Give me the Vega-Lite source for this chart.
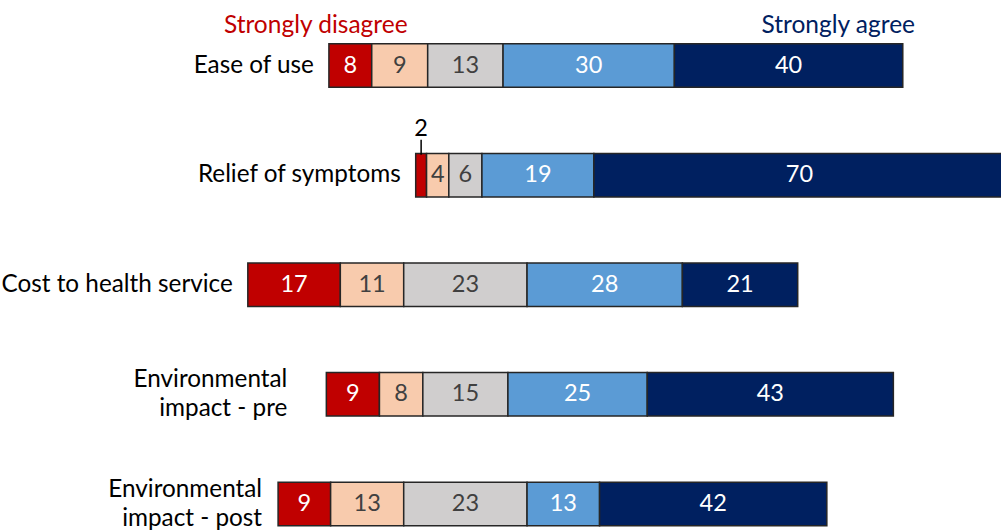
{
  "$schema": "https://vega.github.io/schema/vega-lite/v6.json",
  "width": 1001,
  "height": 530,
  "autosize": {"type": "none"},
  "padding": 0,
  "background": "white",
  "config": {"view": {"stroke": null}, "font": "Lato"},
  "data": {
    "values": [
      {"q": "Ease of use", "r": 1, "v": 7.5, "label": "8"},
      {"q": "Ease of use", "r": 2, "v": 9.8, "label": "9"},
      {"q": "Ease of use", "r": 3, "v": 13.2, "label": "13"},
      {"q": "Ease of use", "r": 4, "v": 30.0, "label": "30"},
      {"q": "Ease of use", "r": 5, "v": 40.0, "label": "40"},
      {"q": "Relief of symptoms", "r": 1, "v": 1.9, "label": "2"},
      {"q": "Relief of symptoms", "r": 2, "v": 3.9, "label": "4"},
      {"q": "Relief of symptoms", "r": 3, "v": 5.8, "label": "6"},
      {"q": "Relief of symptoms", "r": 4, "v": 19.6, "label": "19"},
      {"q": "Relief of symptoms", "r": 5, "v": 72.0, "label": "70"},
      {"q": "Cost to health service", "r": 1, "v": 16.2, "label": "17"},
      {"q": "Cost to health service", "r": 2, "v": 11.1, "label": "11"},
      {"q": "Cost to health service", "r": 3, "v": 21.6, "label": "23"},
      {"q": "Cost to health service", "r": 4, "v": 27.2, "label": "28"},
      {"q": "Cost to health service", "r": 5, "v": 20.2, "label": "21"},
      {"q": "Environmental\nimpact - pre", "r": 1, "v": 9.3, "label": "9"},
      {"q": "Environmental\nimpact - pre", "r": 2, "v": 7.6, "label": "8"},
      {"q": "Environmental\nimpact - pre", "r": 3, "v": 14.9, "label": "15"},
      {"q": "Environmental\nimpact - pre", "r": 4, "v": 24.4, "label": "25"},
      {"q": "Environmental\nimpact - pre", "r": 5, "v": 43.1, "label": "43"},
      {"q": "Environmental\nimpact - post", "r": 1, "v": 9.2, "label": "9"},
      {"q": "Environmental\nimpact - post", "r": 2, "v": 12.8, "label": "13"},
      {"q": "Environmental\nimpact - post", "r": 3, "v": 21.6, "label": "23"},
      {"q": "Environmental\nimpact - post", "r": 4, "v": 12.7, "label": "13"},
      {"q": "Environmental\nimpact - post", "r": 5, "v": 39.8, "label": "42"}
    ]
  },
  "transform": [
    {"calculate": "datum.r < 3 ? datum.v : (datum.r == 3 ? datum.v / 2 : 0)", "as": "pre"},
    {"joinaggregate": [{"op": "sum", "field": "pre", "as": "off"}], "groupby": ["q"]},
    {"window": [{"op": "sum", "field": "v", "as": "cum"}], "sort": [{"field": "r", "order": "ascending"}], "groupby": ["q"], "frame": [null, 0]},
    {"calculate": "datum.cum - datum.off", "as": "x2"},
    {"calculate": "datum.cum - datum.v - datum.off", "as": "x1"},
    {"calculate": "(datum.x1 + datum.x2) / 2", "as": "mid"}
  ],
  "encoding": {
    "y": {
      "field": "q",
      "type": "nominal",
      "sort": ["Ease of use", "Relief of symptoms", "Cost to health service", "Environmental\nimpact - pre", "Environmental\nimpact - post"],
      "scale": {"paddingInner": 0.603, "paddingOuter": 0.2195, "align": 0.91},
      "axis": null
    }
  },
  "layer": [
    {
      "mark": {"type": "bar", "stroke": "#262626", "strokeWidth": 1.5, "clip": true},
      "encoding": {
        "x": {"field": "x1", "type": "quantitative", "scale": {"domain": [-81.5, 93.8], "nice": false, "zero": false}, "axis": null},
        "x2": {"field": "x2"},
        "color": {
          "field": "r",
          "type": "ordinal",
          "scale": {"domain": [1, 2, 3, 4, 5], "range": ["#C00000", "#F8CBAD", "#D0CECE", "#5B9BD5", "#002060"]},
          "legend": null
        }
      }
    },
    {
      "transform": [{"filter": "datum.v >= 3"}],
      "mark": {"type": "text", "fontSize": 23.5, "align": "center", "baseline": "middle"},
      "encoding": {
        "x": {"field": "mid", "type": "quantitative"},
        "text": {"field": "label"},
        "color": {"condition": {"test": "datum.r == 2 || datum.r == 3", "value": "#404040"}, "value": "white"}
      }
    },
    {
      "transform": [{"filter": "datum.v < 3"}],
      "mark": {"type": "text", "fontSize": 23.5, "align": "center", "baseline": "middle", "dy": -46, "color": "black"},
      "encoding": {
        "x": {"field": "mid", "type": "quantitative"},
        "text": {"field": "label"}
      }
    },
    {
      "transform": [{"filter": "datum.v < 3"}],
      "mark": {"type": "tick", "size": 15, "thickness": 1.5, "yOffset": -28, "color": "black", "opacity": 1},
      "encoding": {
        "x": {"field": "mid", "type": "quantitative"}
      }
    },
    {
      "transform": [{"filter": "datum.r == 1 && indexof(datum.q, '\\n') < 0"}],
      "mark": {"type": "text", "fontSize": 24.3, "align": "right", "baseline": "middle", "dx": -15, "color": "black"},
      "encoding": {
        "x": {"field": "x1", "type": "quantitative"},
        "text": {"field": "q"}
      }
    },
    {
      "transform": [{"filter": "datum.r == 1 && datum.q == 'Environmental\\nimpact - post'"}],
      "mark": {"type": "text", "fontSize": 24.3, "align": "right", "baseline": "middle", "dx": -16, "dy": -14, "lineBreak": "\n", "lineHeight": 29, "color": "black"},
      "encoding": {
        "x": {"field": "x1", "type": "quantitative"},
        "text": {"field": "q"}
      }
    },
    {
      "transform": [{"filter": "datum.r == 1 && datum.q == 'Environmental\\nimpact - pre'"}],
      "mark": {"type": "text", "fontSize": 24.3, "align": "right", "baseline": "middle", "dx": -39, "dy": -14, "lineBreak": "\n", "lineHeight": 29, "color": "black"},
      "encoding": {
        "x": {"field": "x1", "type": "quantitative"},
        "text": {"field": "q"}
      }
    },
    {
      "data": {"values": [{"t": "Strongly disagree"}]},
      "mark": {"type": "text", "fontSize": 24.5, "align": "center", "baseline": "middle", "dy": -40, "color": "#C00000"},
      "encoding": {
        "x": {"datum": -26.2, "type": "quantitative"},
        "y": {"datum": "Ease of use", "type": "nominal"},
        "text": {"field": "t"}
      }
    },
    {
      "data": {"values": [{"t": "Strongly agree"}]},
      "mark": {"type": "text", "fontSize": 24.5, "align": "center", "baseline": "middle", "dy": -40, "color": "#002060"},
      "encoding": {
        "x": {"datum": 65.3, "type": "quantitative"},
        "y": {"datum": "Ease of use", "type": "nominal"},
        "text": {"field": "t"}
      }
    }
  ]
}
